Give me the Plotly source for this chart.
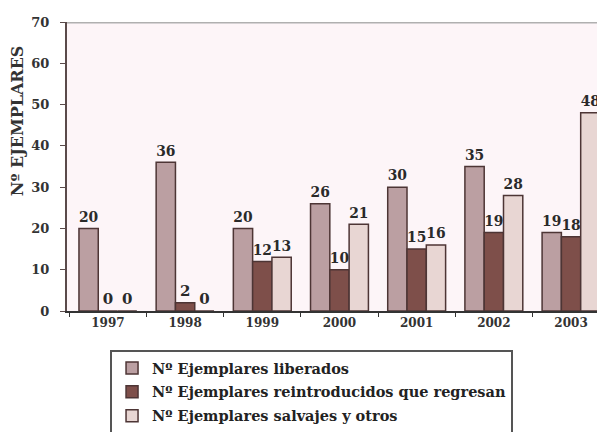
import plotly.graph_objects as go

# Datos del gráfico
years = ['1997', '1998', '1999', '2000', '2001', '2002', '2003']
liberados = [20, 36, 20, 26, 30, 35, 19]
reintroducidos = [0, 2, 12, 10, 15, 19, 18]
salvajes = [0, 0, 13, 21, 16, 28, 48]

series = [
    ('Nº Ejemplares liberados', liberados, '#bb9fa2'),
    ('Nº Ejemplares reintroducidos que regresan', reintroducidos, '#7e4f4a'),
    ('Nº Ejemplares salvajes y otros', salvajes, '#e8d6d3'),
]

serif = 'DejaVu Serif'

fig = go.Figure()
for i, (name, vals, color) in enumerate(series):
    fig.add_trace(go.Bar(
        x=years, y=vals, name=name,
        legendgroup=str(i),
        marker=dict(color=color, line=dict(color='#4d3535', width=1.5)),
        text=vals, textposition='outside', cliponaxis=False,
        textfont=dict(family=serif, size=15, color='#2a2a2a', weight='bold'),
    ))

# línea superior gris a nivel 70
fig.add_shape(type='line', xref='paper', x0=0, x1=1, yref='y', y0=70, y1=70,
              line=dict(color='#b0b0b0', width=3))

# título del eje Y
fig.add_annotation(text='Nº EJEMPLARES', textangle=-90, showarrow=False,
                   xref='paper', yref='paper', x=-0.093, y=0.66,
                   xanchor='center', yanchor='middle',
                   font=dict(family=serif, size=16, color='#333333', weight='bold'))

# el body de la página tiene 8px de margen; la leyenda no debe empujar los márgenes
fig.update_layout(
    width=605, height=432,
    margin=dict(l=59, r=8, t=14, b=129, autoexpand=False),
    paper_bgcolor='white',
    plot_bgcolor='#fdf5f8',
    barmode='group', bargap=0.25, bargroupgap=0,
    showlegend=True,
    legend=dict(
        x=0.08, y=-0.135, xanchor='left', yanchor='top',
        bgcolor='white', bordercolor='#555555', borderwidth=2,
        font=dict(family=serif, size=14.5, color='#222222', weight='bold'),
        traceorder='grouped', tracegroupgap=2,
        itemwidth=30,
    ),
    xaxis=dict(
        range=[-0.53, 6.44], showgrid=False, automargin=False,
        showline=True, linecolor='#333333', linewidth=2,
        ticks='outside', tickson='boundaries', ticklen=4, tickcolor='#333333',
        tickfont=dict(family=serif, size=12, color='#333333', weight='bold'),
    ),
    yaxis=dict(
        range=[0, 70], dtick=10, showgrid=False, zeroline=False, automargin=False,
        showline=True, linecolor='#5a4a4a', linewidth=2,
        ticks='outside', ticklen=5, tickcolor='#5a4a4a', ticklabelstandoff=8,
        tickfont=dict(family=serif, size=13, color='#333333', weight='bold'),
    ),
)

fig.write_html("out.html")
